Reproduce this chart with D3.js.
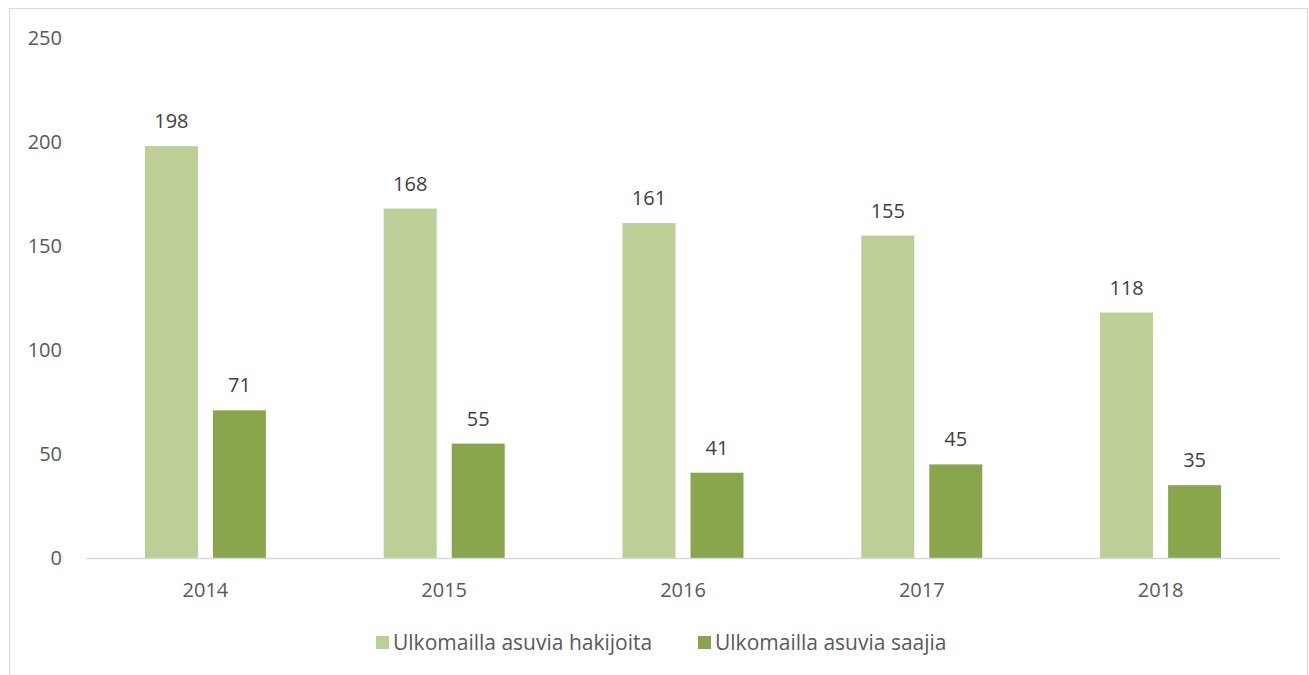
<!DOCTYPE html>
<meta charset="utf-8">
<head>
    <title>Ulkomailla asuvia</title>
    <style>
        body { margin: 0; background: #fff; }
        text { font-family: "Open Sans", "Noto Sans", sans-serif; fill: #595959; }
    </style>
</head>
<body>
<svg id="chart" width="1309" height="675"></svg>
<script src="https://d3js.org/d3.v7.min.js"></script>
<script>
    var years = ["2014", "2015", "2016", "2017", "2018"];
    var hakijoita = [198, 168, 161, 155, 118];
    var saajia = [71, 55, 41, 45, 35];
    var seriesNames = ["Ulkomailla asuvia hakijoita", "Ulkomailla asuvia saajia"];
    var yTicks = [0, 50, 100, 150, 200, 250];

    var colors = ["#bbcf96", "#8aa64c"];

    var svg = d3.select("#chart"),
        plotLeft = 86, plotRight = 1280, plotTop = 38, plotBottom = 558,
        fs = "20px";

    // chart frame
    svg.append("rect")
        .attr("x", 9.5).attr("y", 8.5)
        .attr("width", 1298).attr("height", 700)
        .attr("fill", "none").attr("stroke", "#d9d9d9");

    var x = d3.scaleBand().domain(years).range([plotLeft, plotRight]);
    var y = d3.scaleLinear().domain([0, 250]).range([plotBottom, plotTop]);

    var barW = 53, gap = 15;

    // y tick labels
    svg.selectAll(".ytick")
        .data(yTicks)
        .enter().append("text")
        .attr("x", 62)
        .attr("y", function (d) { return y(d); })
        .attr("dy", "0.35em")
        .attr("text-anchor", "end")
        .style("font-size", fs)
        .text(function (d) { return d; });

    var rows = years.map(function (yr, i) {
        return {year: yr, vals: [hakijoita[i], saajia[i]]};
    });

    var groups = svg.selectAll(".grp")
        .data(rows)
        .enter().append("g")
        .attr("transform", function (d) {
            return "translate(" + (x(d.year) + x.bandwidth() / 2) + ",0)";
        });

    groups.selectAll("rect")
        .data(function (d) { return d.vals; })
        .enter().append("rect")
        .attr("x", function (d, i) { return i === 0 ? -barW - gap / 2 : gap / 2; })
        .attr("y", function (d) { return y(d); })
        .attr("width", barW)
        .attr("height", function (d) { return plotBottom - y(d); })
        .attr("fill", function (d, i) { return colors[i]; });

    groups.selectAll(".lbl")
        .data(function (d) { return d.vals; })
        .enter().append("text")
        .attr("x", function (d, i) { return i === 0 ? -barW / 2 - gap / 2 : barW / 2 + gap / 2; })
        .attr("y", function (d) { return y(d) - 25; })
        .attr("dy", "0.35em")
        .attr("text-anchor", "middle")
        .style("font-size", fs)
        .style("fill", "#404040")
        .text(function (d) { return d; });

    // baseline
    svg.append("line")
        .attr("x1", plotLeft).attr("x2", plotRight)
        .attr("y1", plotBottom + 0.5).attr("y2", plotBottom + 0.5)
        .attr("stroke", "#d9d9d9").attr("stroke-width", 1.5);

    svg.selectAll(".xlbl")
        .data(years)
        .enter().append("text")
        .attr("x", function (d) { return x(d) + x.bandwidth() / 2; })
        .attr("y", 590)
        .attr("dy", "0.35em")
        .attr("text-anchor", "middle")
        .style("font-size", fs)
        .text(function (d) { return d; });

    // legend
    var legX = [376, 698];
    var leg = svg.selectAll(".leg")
        .data(seriesNames)
        .enter().append("g")
        .attr("transform", function (d, i) { return "translate(" + legX[i] + ",643)"; });
    leg.append("rect")
        .attr("x", 0).attr("y", -7)
        .attr("width", 13).attr("height", 13)
        .attr("fill", function (d, i) { return colors[i]; });
    leg.append("text")
        .attr("x", 17).attr("y", 0)
        .attr("dy", "0.35em")
        .style("font-size", "21px")
        .text(function (d) { return d; });
</script>
</body>
